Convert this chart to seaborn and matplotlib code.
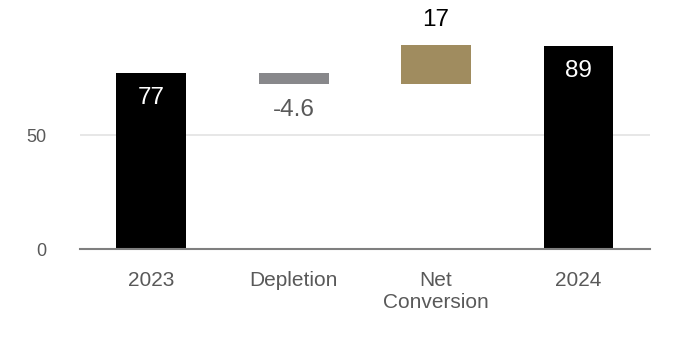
import numpy as np
import pandas as pd
import matplotlib
matplotlib.use("Agg")
import matplotlib.pyplot as plt
import seaborn as sns

# =============================================================================
# DATA
# =============================================================================

CATEGORIES = ['2023', 'Depletion', 'Net\nConversion', '2024']
VALUES = [77, -4.6, 17, 89]
KINDS = ['total', 'delta', 'delta', 'total']
LABELS = ['77', '-4.6', '17', '89']

BAR_COLORS = ['#000000', '#88888b', '#a08c5f', '#000000']
LABEL_COLORS = ['white', '#595959', 'black', 'white']
TEXT_GREY = '#595959'

# =============================================================================
# WATERFALL GEOMETRY
# =============================================================================

bases, heights = [], []
running = 0.0
for v, k in zip(VALUES, KINDS):
    if k == 'total':
        bases.append(0.0)
        heights.append(v)
        running = v
    else:
        lo = running + min(v, 0)
        bases.append(lo)
        heights.append(abs(v))
        running += v

df = pd.DataFrame({'Category': CATEGORIES, 'Height': heights, 'Base': bases})

# =============================================================================
# PLOT
# =============================================================================

sns.set_theme(style="white")
plt.rcParams['font.family'] = ['Liberation Sans', 'DejaVu Sans']

fig = plt.figure(figsize=(6.8, 3.44), dpi=100)
ax = fig.add_axes([0.1176, 0.276, 0.838, 0.663])

sns.barplot(data=df, x='Category', y='Height', order=CATEGORIES,
            bottom=df['Base'].values, width=0.49, ax=ax,
            color='black', linewidth=0, saturation=1)

for p, c in zip(ax.patches, BAR_COLORS):
    p.set_facecolor(c)
    p.set_edgecolor(c)

# data labels
for i, (b, h, kind, v) in enumerate(zip(bases, heights, KINDS, VALUES)):
    top = b + h
    if kind == 'total':
        ax.annotate(LABELS[i], (i, top), xytext=(0, -18), textcoords='offset points',
                    ha='center', va='center', fontsize=17.5, color=LABEL_COLORS[i])
    elif v < 0:
        ax.annotate(LABELS[i], (i, b), xytext=(0, -19), textcoords='offset points',
                    ha='center', va='center', fontsize=17.5, color=LABEL_COLORS[i])
    else:
        ax.annotate(LABELS[i], (i, top), xytext=(0, 18), textcoords='offset points',
                    ha='center', va='center', fontsize=17.5, color=LABEL_COLORS[i],
                    annotation_clip=False)

ax.set_xlim(-0.5, 3.5)
ax.set_ylim(0, 100)
ax.set_yticks([0, 50])
ax.set_xlabel("")
ax.set_ylabel("")

ax.yaxis.grid(True, color='#e3e3e3', linewidth=1.2)
ax.set_axisbelow(True)
for s in ['top', 'right', 'left']:
    ax.spines[s].set_visible(False)
ax.spines['bottom'].set_color('#7f7f7f')
ax.spines['bottom'].set_linewidth(1.5)

ax.tick_params(axis='y', length=0, pad=24, labelsize=13, labelcolor=TEXT_GREY)
ax.tick_params(axis='x', length=0, pad=16, labelsize=15, labelcolor=TEXT_GREY)

fig.savefig("out.png", dpi=100)
plt.close(fig)
